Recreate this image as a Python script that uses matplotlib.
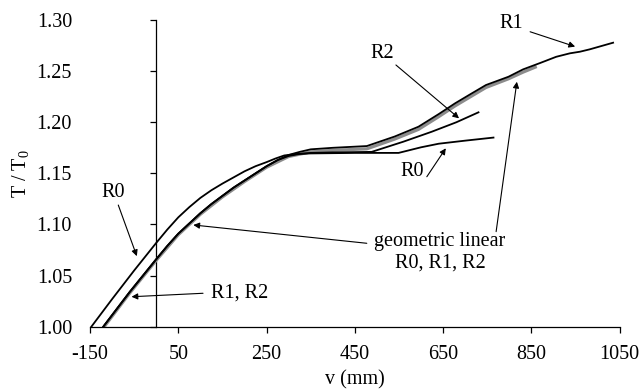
import matplotlib
matplotlib.use("Agg")
import matplotlib.pyplot as plt
from matplotlib.ticker import FormatStrFormatter

plt.rcParams['font.family'] = ['Liberation Serif', 'DejaVu Serif']
plt.rcParams['mathtext.fontset'] = 'custom'
plt.rcParams['mathtext.rm'] = 'Liberation Serif'
plt.rcParams['mathtext.it'] = 'Liberation Serif:italic'
plt.rcParams['axes.unicode_minus'] = False

# ---- data ----
v_R0 = [-147, -100, -50, 0, 25, 50, 75, 100, 125, 150, 175, 200, 225, 250, 270, 290,
        320, 350, 450, 549, 600, 640, 700, 764]
T_R0 = [1.000, 1.027, 1.055, 1.082, 1.095, 1.107, 1.117, 1.126, 1.1335, 1.140, 1.146,
        1.152, 1.157, 1.161, 1.1645, 1.1675, 1.169, 1.1695, 1.170, 1.170, 1.1755,
        1.179, 1.182, 1.185]

v_R1 = [-120, -90, -60, -30, 0, 25, 50, 75, 100, 125, 150, 175, 200, 225, 250, 275,
        300, 325, 350, 400, 477, 540, 594, 640, 677, 712, 747, 798, 831, 870, 906,
        937, 960, 982, 1035]
T_R1 = [1.000, 1.017, 1.034, 1.050, 1.066, 1.079, 1.091, 1.101, 1.111, 1.120, 1.128,
        1.136, 1.143, 1.150, 1.157, 1.163, 1.168, 1.171, 1.1735, 1.175, 1.1767,
        1.186, 1.1956, 1.208, 1.2185, 1.2275, 1.2364, 1.2445, 1.2517, 1.258, 1.264,
        1.2674, 1.269, 1.2713, 1.2778]

v_R2 = [-120, -90, -60, -30, 0, 25, 50, 75, 100, 125, 150, 175, 200, 225, 250, 275,
        300, 325, 350, 400, 488, 560, 624, 680, 730]
T_R2 = [1.000, 1.017, 1.034, 1.050, 1.066, 1.079, 1.091, 1.101, 1.111, 1.120, 1.128,
        1.136, 1.143, 1.150, 1.157, 1.163, 1.167, 1.169, 1.170, 1.1705, 1.171,
        1.181, 1.1907, 1.200, 1.2097]

v_GL = [-118, -60, 0, 50, 100, 150, 200, 250, 300, 350, 400, 477, 540, 594, 640, 677,
        712, 747, 798, 831, 862]
T_GL = [1.000, 1.033, 1.065, 1.090, 1.110, 1.127, 1.142, 1.156, 1.1665, 1.171, 1.1725,
        1.174, 1.1835, 1.193, 1.2055, 1.216, 1.225, 1.234, 1.2425, 1.249, 1.2545]

x_ticks = [-150, 50, 250, 450, 650, 850, 1050]
y_ticks = [1.00, 1.05, 1.10, 1.15, 1.20, 1.25, 1.30]

FS = 14.5

fig = plt.figure(figsize=(6.44, 3.90), dpi=100)
ax = fig.add_axes([0.1398, 0.1623, 0.8225, 0.7864])

ax.plot(v_GL, T_GL, color='#8c8c8c', lw=2.3, zorder=2, solid_capstyle='butt')
ax.plot(v_R0, T_R0, color='black', lw=1.3, zorder=3)
ax.plot(v_R2, T_R2, color='black', lw=1.3, zorder=3)
ax.plot(v_R1, T_R1, color='black', lw=1.3, zorder=3)

ax.set_xlim(-150, 1050)
ax.set_ylim(1.0, 1.3)
ax.set_xticks(x_ticks)
ax.set_yticks(y_ticks)
ax.yaxis.set_major_formatter(FormatStrFormatter('%.2f'))

for s in ['top', 'right', 'left']:
    ax.spines[s].set_visible(False)
ax.spines['bottom'].set_linewidth(0.9)
ax.tick_params(axis='x', direction='out', length=4.5, width=0.9, labelsize=FS, pad=9)
ax.tick_params(axis='y', length=0, labelsize=FS, pad=13)

# vertical axis line crossing at v = 0
sec = ax.secondary_yaxis((0 - (-150)) / 1200)
sec.set_yticks(y_ticks)
sec.tick_params(axis='y', direction='out', length=4.5, width=0.9, labelleft=False)
sec.spines['left'].set_linewidth(0.9)

ax.set_xlabel('v (mm)', fontsize=FS, labelpad=4)
ax.set_ylabel(r'T / T$_\mathregular{0}$', fontsize=FS, labelpad=4)

arrow = dict(arrowstyle='-|>', lw=0.8, color='black', mutation_scale=9,
             shrinkA=0, shrinkB=0)

def note(text, txy, tail, head):
    ax.text(txy[0], txy[1], text, fontsize=FS, ha='center', va='center')
    ax.annotate('', xy=head, xytext=tail, arrowprops=arrow)

note('R0', (-98, 1.1317), (-86, 1.119), (-44, 1.069))
note('R1, R2', (190, 1.0327), (106, 1.0327), (-56, 1.0293))
ax.text(643, 1.073, 'geometric linear\nR0, R1, R2', fontsize=FS, ha='center',
        va='center', linespacing=1.15)
ax.annotate('', xy=(84, 1.0995), xytext=(477, 1.0816), arrowprops=arrow)
ax.annotate('', xy=(817, 1.2396), xytext=(770, 1.093), arrowprops=arrow)
note('R2', (511, 1.2674), (543, 1.256), (686, 1.2038))
note('R0', (579, 1.1516), (613, 1.1467), (656, 1.1745))
note('R1', (805, 1.2967), (847, 1.2885), (949, 1.274))

fig.savefig('out.png', dpi=100)
